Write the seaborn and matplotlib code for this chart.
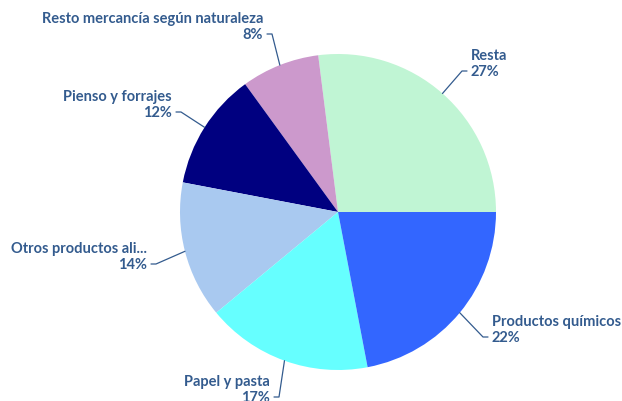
import numpy as np
import matplotlib.pyplot as plt
import seaborn as sns

# Data (counterclockwise from 3 o'clock)
categories = ["Resta", "Resto mercancía según naturaleza", "Pienso y forrajes",
              "Otros productos ali...", "Papel y pasta", "Productos químicos"]
shares = [27, 8, 12, 14, 17, 22]
colors = ["#c0f5d4", "#cc99cc", "#000080", "#a9c9f0", "#66ffff", "#3366ff"]

# label anchor points in pixel space and alignment
label_pos = [(471, 64), (263, 27), (172, 105), (147, 257), (270, 390), (492, 330)]
label_ha = ["left", "right", "right", "right", "right", "left"]

sns.set_theme(style="white")
plt.rcParams["font.family"] = ["Lato", "DejaVu Sans"]

W, H = 622, 401
cx, cy, R = 338, 212, 158

fig = plt.figure(figsize=(W / 100, H / 100), dpi=100)
ax = fig.add_axes([0, 0, 1, 1])

wedges, _ = ax.pie(shares, colors=colors, startangle=0, counterclock=True,
                   radius=1, center=(0, 0), frame=True,
                   wedgeprops=dict(linewidth=0))
ax.set_xlim(-cx / R, (W - cx) / R)
ax.set_ylim(-(H - cy) / R, cy / R)
ax.axis("off")

txt_color = "#335b8e"


def to_data(px, py):
    return (px - cx) / R, (cy - py) / R


for w, name, val, (px, py), ha in zip(wedges, categories, shares, label_pos, label_ha):
    ang = np.deg2rad((w.theta1 + w.theta2) / 2)
    ex, ey = np.cos(ang), np.sin(ang)
    tx, ty = to_data(px, py)
    ax.text(tx, ty, f"{name}\n{val}%", ha=ha, va="center", color=txt_color,
            fontsize=10.5, fontweight="bold", linespacing=1.2)
    # leader line: ends near the percent line of the label
    gap = 4 / R
    hx = tx - gap if ha == "left" else tx + gap
    ly = ty - 7 / R
    kx = hx - 5 / R if ha == "left" else hx + 5 / R
    ax.plot([ex, kx, hx], [ey, ly, ly], color=txt_color, lw=0.9)

fig.savefig("out.png", dpi=100)
